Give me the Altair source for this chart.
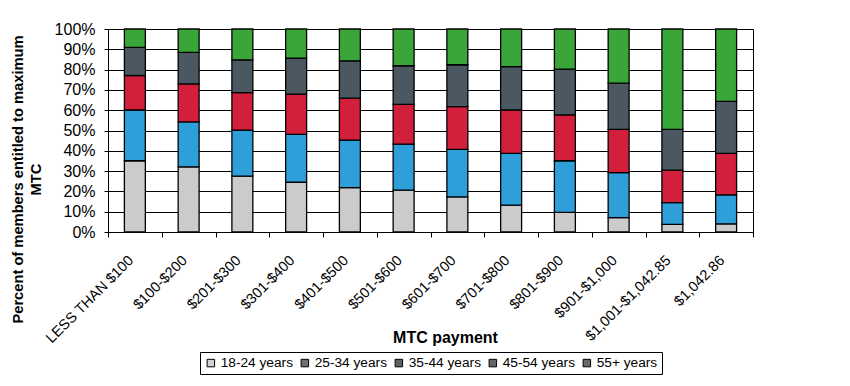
import altair as alt
import pandas as pd

categories = ["LESS THAN $100", "$100-$200", "$201-$300", "$301-$400", "$401-$500",
              "$501-$600", "$601-$700", "$701-$800", "$801-$900", "$901-$1,000",
              "$1,001-$1,042.85", "$1,042.86"]
groups = ["18-24 years", "25-34 years", "35-44 years", "45-54 years", "55+ years"]
# cumulative tops (%), per category, for first four groups
cum_18_24 = [35.1, 32.1, 27.5, 24.5, 21.9, 20.6, 17.3, 13.2, 9.7, 7.1, 3.8, 4.0]
cum_25_34 = [60.1, 54.2, 50.2, 48.1, 45.3, 43.3, 40.7, 38.7, 35.1, 29.2, 14.5, 18.3]
cum_35_44 = [77.1, 73.0, 68.7, 67.9, 65.9, 62.9, 61.8, 60.1, 57.7, 50.6, 30.5, 38.7]
cum_45_54 = [90.9, 88.5, 84.8, 85.7, 84.3, 81.9, 82.4, 81.5, 80.2, 73.3, 50.6, 64.3]
cum_55 = [100.0] * 12
y_ticks = [0, 0.1, 0.2, 0.3, 0.4, 0.5, 0.6, 0.7, 0.8, 0.9, 1.0]

bar_colors = ["#cbcbcb", "#2e9fd8", "#d11f3c", "#4b5761", "#3aa63a"]
legend_swatch = ["#d2d2d2", "#6f6f6f", "#5f5f5f", "#666666", "#6a6a6a"]

rows = []
cums = [cum_18_24, cum_25_34, cum_35_44, cum_45_54, cum_55]
for i, c in enumerate(categories):
    prev = 0.0
    for k, (g, cl) in enumerate(zip(groups, cums)):
        rows.append({"cat": c, "group": g, "order": k,
                     "y0": prev / 100, "y1": cl[i] / 100})
        prev = cl[i]
df = pd.DataFrame(rows)

font = "Liberation Sans"

x_axis = alt.Axis(title="MTC payment", labelAngle=-45, labelAlign="right",
                  labelBaseline="middle", tickBand="extent",
                  labelPadding=21, labelOffset=-4, tickSize=5, tickColor="black",
                  domainColor="black", labelFontSize=14.5, labelColor="black",
                  labelFont=font, titleFont=font, titleFontSize=16,
                  titleFontWeight="bold", titleColor="black",
                  titleX=337, titleY=97, titleBaseline="top",
                  titleAnchor="middle", grid=False, labelOverlap=False)
y_axis = alt.Axis(format="%", values=y_ticks, labelOverlap=False,
                  title=["Percent of members entitled to maximum", "MTC"],
                  titleFont=font, titleFontSize=14.7, titleFontWeight="bold",
                  titleColor="black", titleAngle=-90, titleX=-98, titleY=150,
                  titleBaseline="top", titleAlign="center", titleLineHeight=18,
                  labelFont=font, labelFontSize=16, labelColor="black",
                  tickSize=4, tickColor="black", domainColor="black",
                  gridColor="black", gridOpacity=1, labelPadding=9)

x_enc = alt.X("cat:N", sort=categories,
              scale=alt.Scale(paddingInner=0, paddingOuter=0), axis=x_axis)
y_enc = alt.Y("y0:Q", scale=alt.Scale(domain=[0, 1]), axis=y_axis)

bars = alt.Chart(df).mark_bar(width={"band": 0.39}, stroke="black", strokeWidth=1.3).encode(
    x=x_enc,
    y=y_enc,
    y2="y1:Q",
    color=alt.Color("group:N", scale=alt.Scale(domain=groups, range=bar_colors), legend=None),
    order="order:Q",
)

legend_layer = alt.Chart(df).mark_square(opacity=0, size=0).encode(
    x=x_enc,
    y=y_enc,
    fill=alt.Fill("group:N", scale=alt.Scale(domain=groups, range=legend_swatch),
                  legend=alt.Legend(title=None, orient="none", direction="horizontal",
                                    legendX=92, legendY=323, symbolType="square",
                                    symbolSize=56, symbolStrokeColor="black",
                                    symbolStrokeWidth=1, symbolOpacity=1,
                                    labelFont=font, labelFontSize=13.7, labelColor="black",
                                    columnPadding=5, labelOffset=3, symbolOffset=0,
                                    strokeColor="black", padding=4)),
)

chart = alt.layer(legend_layer, bars).properties(
    width=645, height=203,
    autosize=alt.AutoSizeParams(type="none"),
    padding={"left": 100, "top": 21, "right": 89, "bottom": 146},
    background="white",
).configure_view(stroke="black", strokeWidth=1).configure_axis(gridWidth=1)

chart.save("out.html", embed_options={"renderer": "svg", "actions": False})
